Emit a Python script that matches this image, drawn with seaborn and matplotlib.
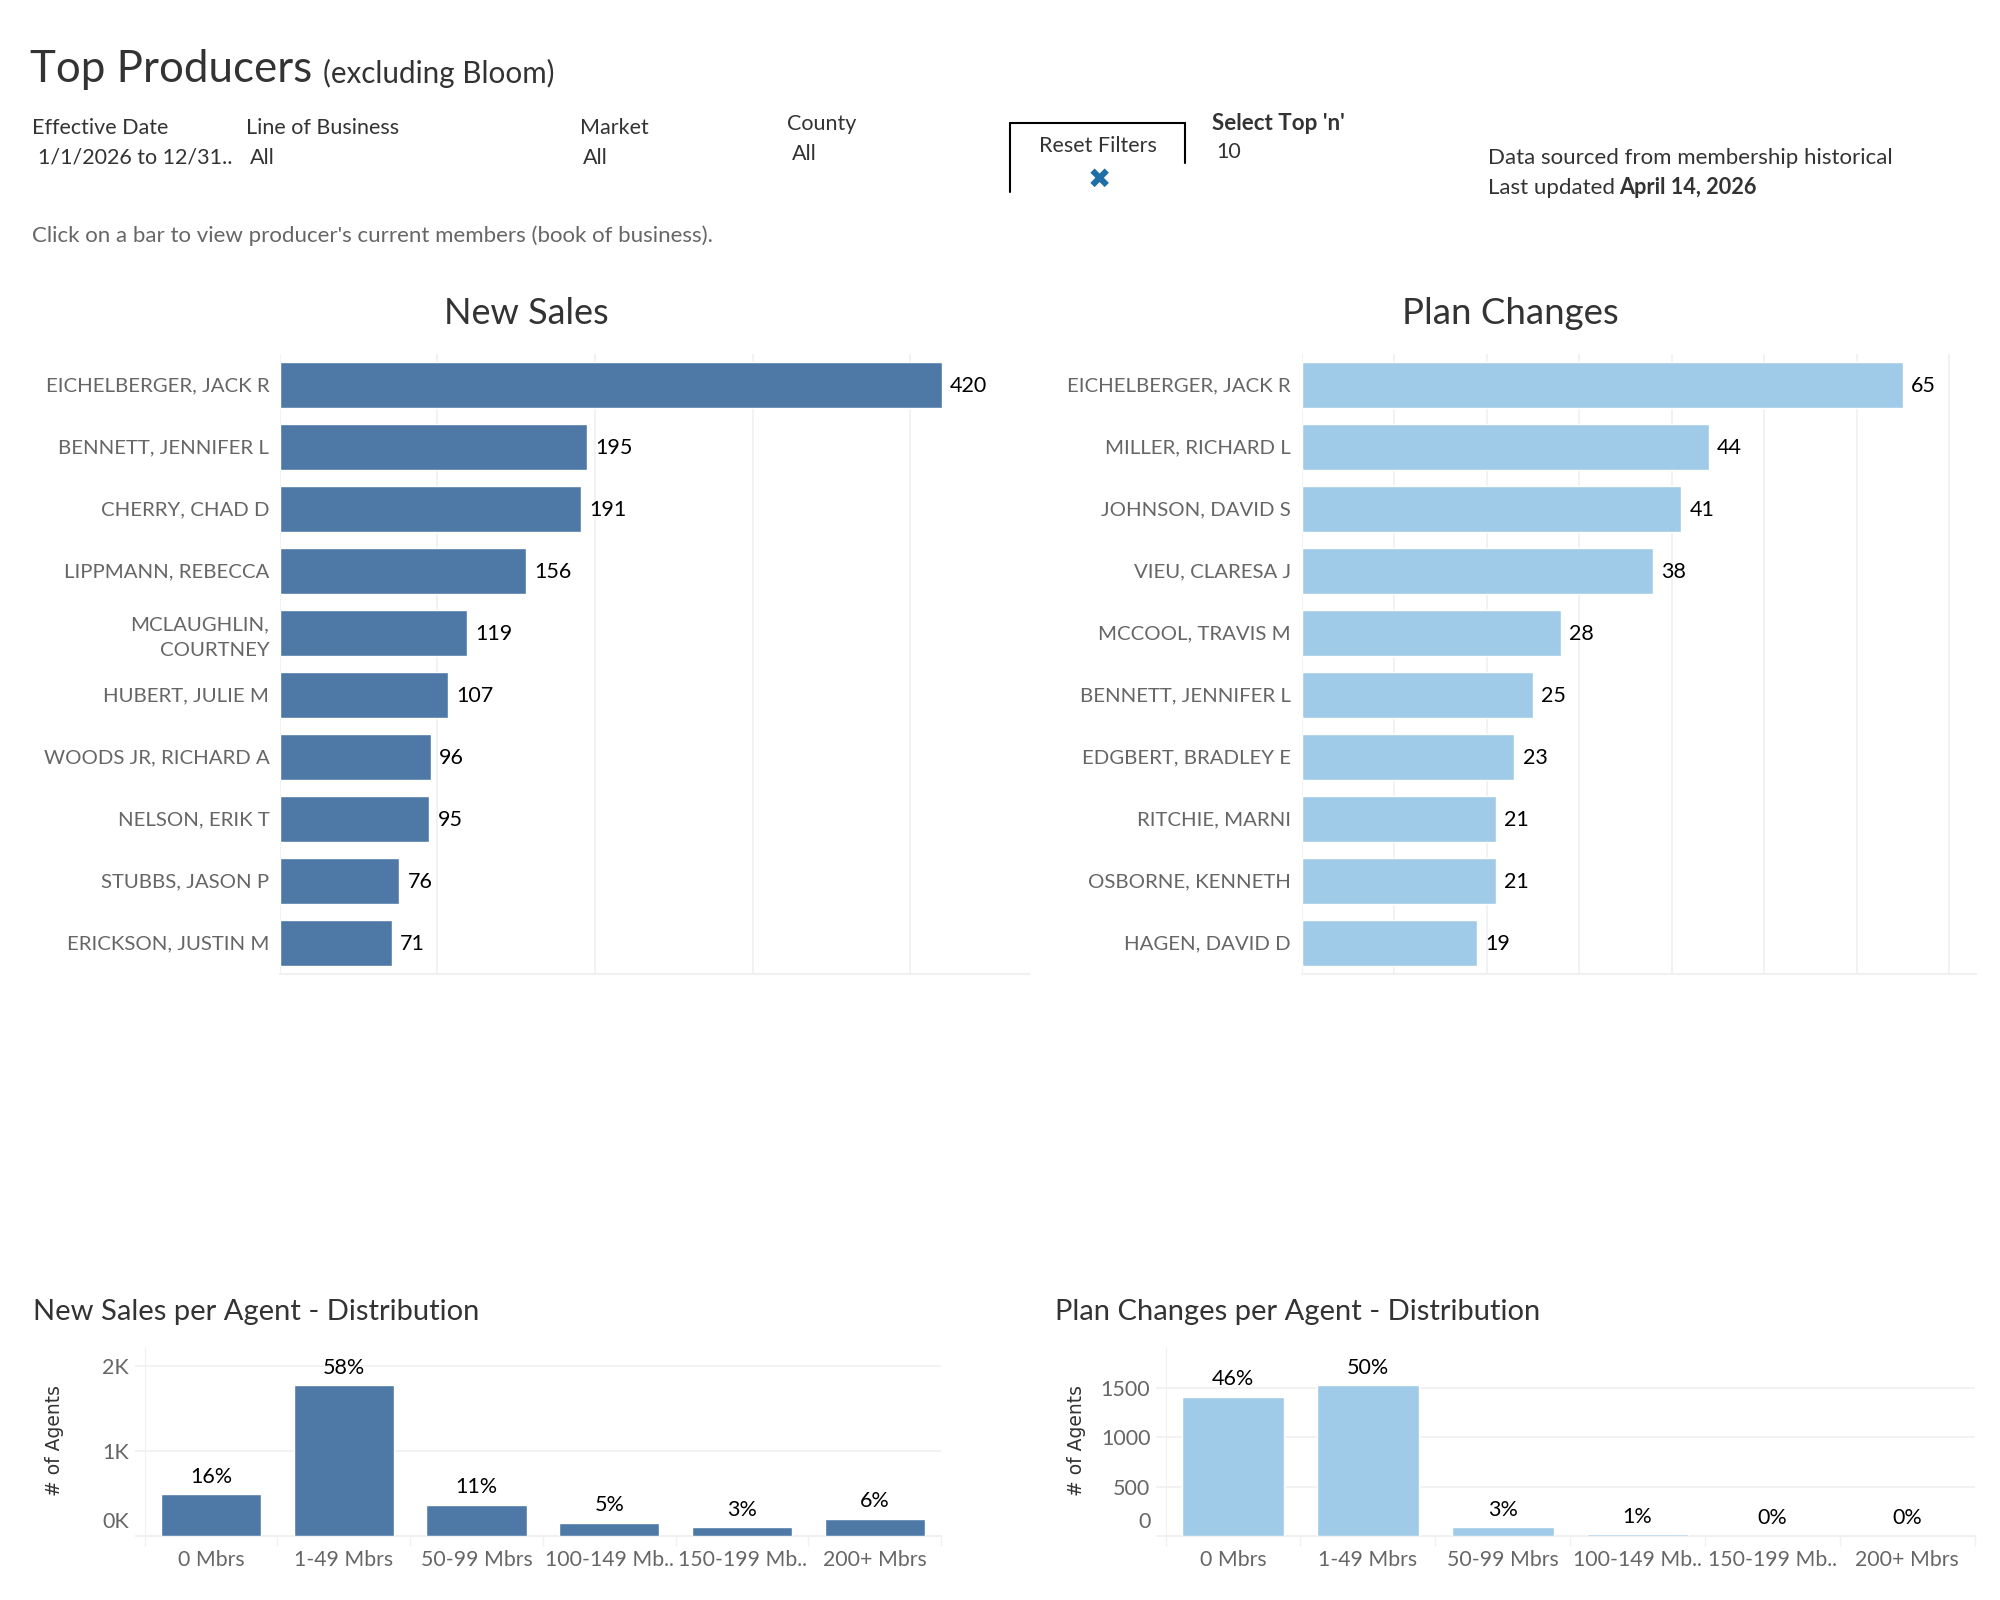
import matplotlib
matplotlib.use("Agg")
import matplotlib.pyplot as plt
from matplotlib.lines import Line2D
from matplotlib.transforms import ScaledTranslation
import pandas as pd
import seaborn as sns

sales_names = ["EICHELBERGER, JACK R", "BENNETT, JENNIFER L", "CHERRY, CHAD D", "LIPPMANN, REBECCA",
               "MCLAUGHLIN,\nCOURTNEY", "HUBERT, JULIE M", "WOODS JR, RICHARD A", "NELSON, ERIK T",
               "STUBBS, JASON P", "ERICKSON, JUSTIN M"]
sales_values = [420, 195, 191, 156, 119, 107, 96, 95, 76, 71]
change_names = ["EICHELBERGER, JACK R", "MILLER, RICHARD L", "JOHNSON, DAVID S", "VIEU, CLARESA J",
                "MCCOOL, TRAVIS M", "BENNETT, JENNIFER L", "EDGBERT, BRADLEY E", "RITCHIE, MARNI",
                "OSBORNE, KENNETH", "HAGEN, DAVID D"]
change_values = [65, 44, 41, 38, 28, 25, 23, 21, 21, 19]
bins = ["0 Mbrs", "1-49 Mbrs", "50-99 Mbrs", "100-149 Mb..", "150-199 Mb..", "200+ Mbrs"]
dist_sales = [490, 1775, 365, 155, 105, 200]
dist_sales_pct = ["16%", "58%", "11%", "5%", "3%", "6%"]
dist_changes = [1410, 1530, 90, 20, 3, 2]
dist_changes_pct = ["46%", "50%", "3%", "1%", "0%", "0%"]

BLUE = "#4e79a7"
LIGHT = "#a0cbe8"
GRID = "#f0f0f0"
W, H = 2000, 1600

sns.set_theme(style="white")
plt.rcParams["font.family"] = ["Lato", "DejaVu Sans"]
fig = plt.figure(figsize=(20, 16), dpi=100, facecolor="white")


def new_ax(x0, y0, x1, y1):
    return fig.add_axes([x0 / W, 1 - y1 / H, (x1 - x0) / W, (y1 - y0) / H])


def txt(x, y, s, size, color="#333333", ha="left", va="center", **kw):
    return fig.text(x / W, 1 - y / H, s, fontsize=size, color=color, ha=ha, va=va, **kw)


def hbars(box, names, values, color, xmax, step):
    ax = new_ax(*box)
    df = pd.DataFrame({"name": names, "value": values})
    sns.barplot(data=df, y="name", x="value", color=color, saturation=1, width=0.74, ax=ax)
    ax.set_xlim(0, xmax)
    ax.set_ylim(9.5, -0.5)
    ax.set_xticks(list(range(0, int(xmax) + 1, step)))
    ax.set_xticklabels([])
    ax.set_xlabel("")
    ax.set_ylabel("")
    ax.set_axisbelow(True)
    ax.grid(axis="x", color=GRID, lw=1.2)
    ax.grid(axis="y", visible=False)
    sns.despine(ax=ax, left=True, top=True, right=True)
    ax.spines["bottom"].set_color(GRID)
    ax.spines["bottom"].set_linewidth(1.5)
    ax.tick_params(axis="x", length=0)
    ax.tick_params(axis="y", length=0, pad=7.5, labelsize=14.7, labelcolor="#666666")
    up = ScaledTranslation(0, 1 / 100, fig.dpi_scale_trans)
    for label in ax.get_yticklabels():
        label.set_linespacing(1.6)
        label.set_transform(label.get_transform() + up)
    for c in ax.containers:
        for a in ax.bar_label(c, padding=6, fontsize=15.5, color="black"):
            a.xyann = (a.xyann[0], a.xyann[1] - 1)
    return ax


def vbars(box, values, pcts, color, ymax, ticks, ticklabels, ylabel_x):
    ax = new_ax(*box)
    df = pd.DataFrame({"bin": bins, "value": values})
    sns.barplot(data=df, x="bin", y="value", color=color, saturation=1, width=0.755, ax=ax)
    ax.set_xlim(-0.5, 5.5)
    ax.set_ylim(0, ymax)
    ax.set_xlabel("")
    ax.set_ylabel("")
    ax.set_yticks(ticks)
    ax.set_yticklabels(ticklabels)
    ax.set_xticks([i + 0.5 for i in range(-1, 6)], minor=True)
    ax.set_axisbelow(True)
    ax.grid(axis="y", color=GRID, lw=1.2)
    ax.grid(axis="x", visible=False)
    sns.despine(ax=ax, top=True, right=True)
    ax.spines["left"].set_color(GRID)
    ax.spines["left"].set_linewidth(0.8)
    ax.spines["bottom"].set_color(GRID)
    ax.spines["bottom"].set_linewidth(1.5)
    ax.spines["bottom"].set_zorder(0.5)
    ax.tick_params(axis="x", which="major", length=0, pad=10, labelsize=15.3, labelcolor="#666666")
    ax.tick_params(axis="x", which="minor", length=7, width=1, color=GRID, bottom=True)
    ax.tick_params(axis="y", length=7.5, width=1.2, color=GRID, left=True, pad=3.5,
                   labelsize=15.5, labelcolor="#666666")
    zero = ax.get_yticklabels()[0]
    zero.set_transform(zero.get_transform() + ScaledTranslation(0, 16 / 100, fig.dpi_scale_trans))
    for i, (v, p) in enumerate(zip(values, pcts)):
        ax.annotate(p, (i, v), xytext=(0, 12.6), textcoords="offset points",
                    ha="center", va="center", fontsize=15.5, color="black")
    fig.text(ylabel_x / W, 1 - 1440 / H, "# of Agents", rotation=90, ha="center", va="center",
             fontsize=13.5, color="#333333", family="DejaVu Sans")
    return ax


hbars((279.7, 354, 1029, 974), sales_names, sales_values, BLUE, 475.4, 100)
hbars((1301.5, 354, 1975.5, 974), change_names, change_values, LIGHT, 72.83, 10)
vbars((144.5, 1348, 941.3, 1536), dist_sales, dist_sales_pct, BLUE, 2210,
      [0, 1000, 2000], ["0K", "1K", "2K"], 55)
vbars((1165.6, 1348, 1974.5, 1536), dist_changes, dist_changes_pct, LIGHT, 1905,
      [0, 500, 1000, 1500], ["0", "500", "1000", "1500"], 1077)

# header
txt(29.5, 69, "Top Producers", 31.6)
txt(322.9, 73, "(excluding Bloom)", 21.3)
txt(32.3, 128, "Effective Date", 15.5)
txt(38.3, 158, "1/1/2026 to 12/31..", 15.5)
txt(246.4, 128, "Line of Business", 15.5)
txt(250.4, 158, "All", 15.5)
txt(580.3, 128, "Market", 15.5)
txt(583.3, 158, "All", 15.5)
txt(787.5, 124, "County", 15.5)
txt(791.5, 154, "All", 15.5)
txt(31.8, 236, "Click on a bar to view producer's current members (book of business).", 16.07, color="#666666")

# reset filters box
for xs, ys in [((1010, 1185), (122.7, 122.7)), ((1010, 1010), (122.7, 192)), ((1185, 1185), (122.7, 163))]:
    fig.add_artist(Line2D([x / W for x in xs], [1 - y / H for y in ys], color="black", lw=1.5,
                          transform=fig.transFigure))
txt(1098, 146, "Reset Filters", 15.5, ha="center")
txt(1098.9, 179.5, "\u2716", 20, color="#1f6ea5", ha="center", family="DejaVu Sans")
txt(1211.6, 123.5, "Select Top 'n'", 16.1, fontweight="bold")
txt(1216.6, 152, "10", 15.5)
txt(1487.9, 158, "Data sourced from membership historical", 16.05)
txt(1487.9, 188, "Last updated", 16)
txt(1619, 188, "April 14, 2026", 15.6, fontweight="bold")

# panel titles
txt(526.6, 314, "New Sales", 26, ha="center")
txt(1510.7, 314, "Plan Changes", 26.4, ha="center")
txt(32.8, 1312, "New Sales per Agent - Distribution", 21)
txt(1054.6, 1312, "Plan Changes per Agent - Distribution", 21)

fig.savefig("out.png", dpi=100, facecolor="white")
